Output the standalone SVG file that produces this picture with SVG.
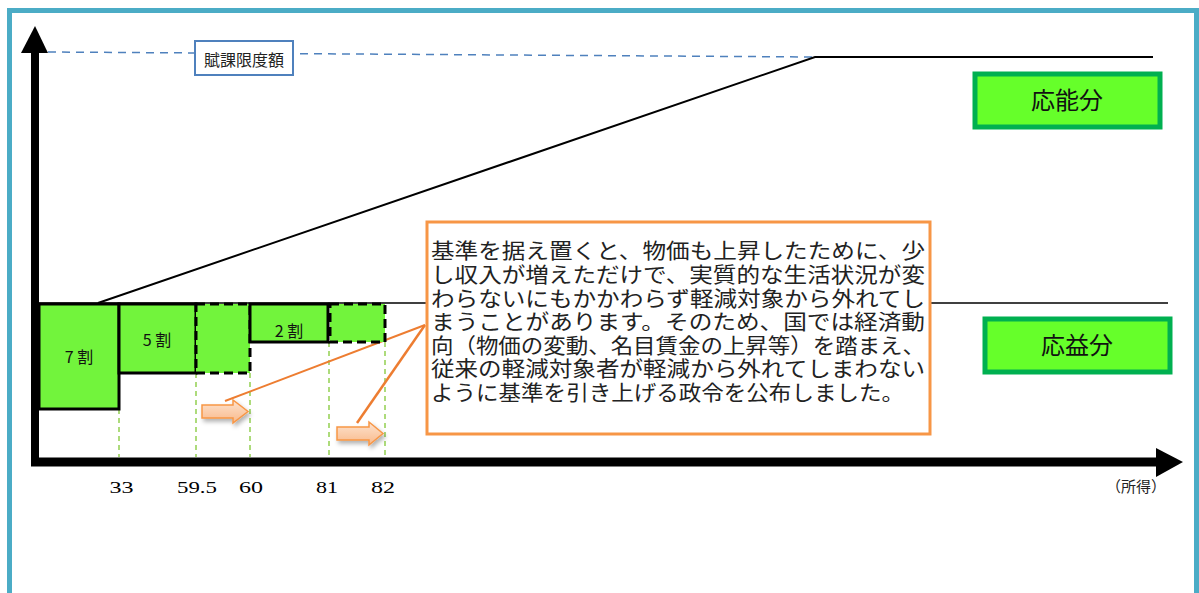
<svg xmlns="http://www.w3.org/2000/svg" width="1199" height="593" viewBox="0 0 1199 593">
<style>
.bar{fill:#72F43C;stroke:#000;stroke-width:3}
.dbar{fill:#72F43C;stroke:#000;stroke-width:3;stroke-dasharray:9 5}
.guide{stroke:#92D050;stroke-width:1.5;stroke-dasharray:5 4;fill:none}
.lbl{font-family:"Noto Sans CJK JP","Liberation Sans",sans-serif;font-size:16px;fill:#111;text-anchor:middle}
.num{font-family:"Liberation Serif",serif;font-size:17px;fill:#000;text-anchor:middle}
.tag{fill:#66FF2A;stroke:#00B050;stroke-width:5}
.tagt{font-family:"Noto Sans CJK JP",sans-serif;font-size:24px;fill:#111;text-anchor:middle}
.body{font-family:"Noto Sans CJK JP",sans-serif;font-size:21px;fill:#222}
.arr{fill:url(#pg);stroke:#F79646;stroke-width:1.5}
</style>
<defs>
<linearGradient id="pg" x1="0" y1="0" x2="0" y2="1">
<stop offset="0" stop-color="#FDE3CF"/>
<stop offset="1" stop-color="#F9B98A"/>
</linearGradient>
<filter id="sh" x="-20%" y="-40%" width="150%" height="200%">
<feDropShadow dx="2" dy="3" stdDeviation="2" flood-color="#000" flood-opacity="0.3"/>
</filter>
</defs>
<rect x="0" y="0" width="1199" height="593" fill="#fff"/>
<rect id="frame" x="9.5" y="10.5" width="1187" height="600" fill="none" stroke="#4BACC6" stroke-width="5"/>

<g id="connectors">
<line x1="48" y1="52" x2="815" y2="57" stroke="#4F81BD" stroke-width="1.5" stroke-dasharray="8 6"/>
<polyline points="98,303 815,57 1153,57" fill="none" stroke="#000" stroke-width="2"/>
<line x1="38" y1="303" x2="1168" y2="303" stroke="#000" stroke-width="1.5"/>
<line class="guide" x1="119" y1="409" x2="119" y2="457"/>
<line class="guide" x1="196" y1="373" x2="196" y2="457"/>
<line class="guide" x1="250" y1="373" x2="250" y2="457"/>
<line class="guide" x1="329" y1="342" x2="329" y2="457"/>
<line class="guide" x1="385" y1="342" x2="385" y2="457"/>
<line x1="225" y1="401" x2="425" y2="325" stroke="#ED7D31" stroke-width="2"/>
<line x1="357" y1="423" x2="425" y2="325" stroke="#ED7D31" stroke-width="2.5"/>
</g>

<g id="bars">
<rect class="bar" x="39" y="304" width="80" height="105"/>
<rect class="bar" x="119" y="304" width="77" height="69"/>
<rect class="dbar" x="196" y="304" width="54" height="69"/>
<rect class="bar" x="250" y="304" width="78" height="38"/>
<rect class="dbar" x="330" y="304" width="55" height="38"/>
<text class="lbl" x="79" y="363">7 割</text>
<text class="lbl" x="157" y="346">5 割</text>
<text class="lbl" x="289" y="337">2 割</text>
</g>

<g id="axes">
<line x1="35" y1="50" x2="35" y2="466" stroke="#000" stroke-width="8"/>
<polygon points="21,53 35,26 48,53" fill="#000"/>
<line x1="31" y1="462" x2="1160" y2="462" stroke="#000" stroke-width="9"/>
<polygon points="1156,448 1183,462 1156,477" fill="#000"/>
</g>

<g id="ticks">
<text class="num" x="121.5" y="493" textLength="24" lengthAdjust="spacingAndGlyphs">33</text>
<text class="num" x="197" y="493" textLength="40" lengthAdjust="spacingAndGlyphs">59.5</text>
<text class="num" x="251" y="493" textLength="24" lengthAdjust="spacingAndGlyphs">60</text>
<text class="num" x="327" y="493" textLength="22" lengthAdjust="spacingAndGlyphs">81</text>
<text class="num" x="383" y="493" textLength="24" lengthAdjust="spacingAndGlyphs">82</text>
<text x="1136" y="492" font-family="Noto Sans CJK JP,sans-serif" font-size="15" fill="#222" text-anchor="middle">（所得）</text>
</g>

<g id="limit">
<rect x="195" y="41" width="98" height="34" fill="#fff" stroke="#4F81BD" stroke-width="2"/>
<text x="244" y="66" font-family="Noto Sans CJK JP,sans-serif" font-size="16" fill="#222" text-anchor="middle">賦課限度額</text>
</g>

<g id="ono">
<rect class="tag" x="975" y="74" width="185" height="53"/>
<text class="tagt" x="1067" y="109">応能分</text>
</g>
<g id="oeki">
<rect class="tag" x="985" y="319" width="185" height="53"/>
<text class="tagt" x="1077" y="354">応益分</text>
</g>

<g id="arrows" filter="url(#sh)">
<polygon class="arr" points="202,405 233,405 233,400 248,411.5 233,423 233,418 202,418"/>
<polygon class="arr" points="337,427 369,427 369,422 383,433.5 369,445 369,440 337,440"/>
</g>

<g id="note">
<rect x="427" y="222" width="503" height="212" fill="#fff" stroke="#F79646" stroke-width="3"/>
<text class="body">
<tspan x="431" y="258" textLength="494" lengthAdjust="spacingAndGlyphs">基準を据え置くと、物価も上昇したために、少</tspan>
<tspan x="431" y="282" textLength="494" lengthAdjust="spacingAndGlyphs">し収入が増えただけで、実質的な生活状況が変</tspan>
<tspan x="431" y="306" textLength="494" lengthAdjust="spacingAndGlyphs">わらないにもかかわらず軽減対象から外れてし</tspan>
<tspan x="431" y="329" textLength="494" lengthAdjust="spacingAndGlyphs">まうことがあります。そのため、国では経済動</tspan>
<tspan x="431" y="353" textLength="494" lengthAdjust="spacingAndGlyphs">向（物価の変動、名目賃金の上昇等）を踏まえ、</tspan>
<tspan x="431" y="376" textLength="494" lengthAdjust="spacingAndGlyphs">従来の軽減対象者が軽減から外れてしまわない</tspan>
<tspan x="431" y="400" textLength="473" lengthAdjust="spacingAndGlyphs">ように基準を引き上げる政令を公布しました。</tspan>
</text>
</g>
</svg>
